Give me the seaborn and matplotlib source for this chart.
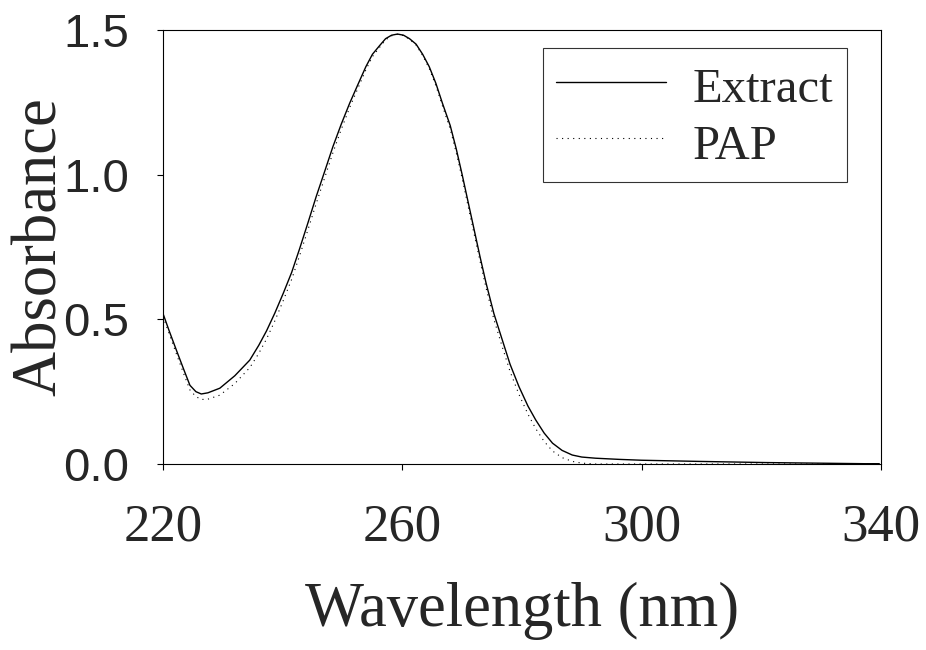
import matplotlib
matplotlib.use("Agg")
import matplotlib.pyplot as plt
import seaborn as sns
import pandas as pd

# ---- data ----
extract_wl = [220.0, 221.0, 222.3, 223.5, 224.5, 225.5, 226.4, 227.5, 229.5, 232.0,
              234.5, 236.0, 237.3, 238.7, 240.1, 241.5, 242.8, 244.2, 245.6, 247.0,
              248.4, 249.8, 251.2, 252.5, 253.9, 255.0, 256.2, 257.2, 258.2, 259.2,
              260.2, 261.2, 262.3, 263.4, 264.5, 265.6, 266.7, 268.0, 269.0, 270.0,
              271.0, 272.0, 273.0, 274.0, 275.3, 276.7, 278.0, 279.5, 281.0, 282.3,
              283.7, 285.1, 286.7, 288.4, 290.0, 292.3, 296.2, 300.0, 309.5, 320.6,
              337.3, 339.7]
extract_abs = [0.52, 0.462, 0.39, 0.325, 0.272, 0.25, 0.242, 0.246, 0.262, 0.305,
               0.359, 0.41, 0.46, 0.522, 0.59, 0.662, 0.742, 0.832, 0.924, 1.01,
               1.097, 1.175, 1.247, 1.308, 1.373, 1.416, 1.446, 1.47, 1.482, 1.486,
               1.482, 1.47, 1.451, 1.416, 1.373, 1.316, 1.247, 1.17, 1.09, 1.0,
               0.905, 0.81, 0.715, 0.625, 0.52, 0.429, 0.345, 0.267, 0.2, 0.152,
               0.107, 0.072, 0.047, 0.031, 0.024, 0.020, 0.016, 0.013, 0.009, 0.005,
               0.001, 0.001]

pap_wl = [220.0, 221.0, 222.3, 223.5, 224.5, 225.5, 226.4, 227.5, 229.5, 232.0,
          234.5, 236.0, 237.3, 238.7, 240.1, 241.5, 242.8, 244.2, 245.6, 247.0,
          248.4, 249.8, 251.2, 252.5, 253.9, 255.0, 256.2, 257.2, 258.2, 259.2,
          260.2, 261.2, 262.3, 263.4, 264.5, 265.6, 266.7, 268.0, 269.0, 270.0,
          271.0, 272.0, 273.0, 274.0, 275.3, 276.7, 278.0, 279.5, 281.0, 282.3,
          283.7, 285.1, 286.7, 288.4, 290.0, 292.3, 340.0]
pap_abs = [0.51, 0.452, 0.377, 0.31, 0.256, 0.233, 0.223, 0.224, 0.238, 0.278,
           0.333, 0.382, 0.432, 0.495, 0.565, 0.638, 0.718, 0.808, 0.9, 0.988,
           1.076, 1.157, 1.232, 1.295, 1.362, 1.408, 1.44, 1.466, 1.48, 1.485,
           1.481, 1.468, 1.448, 1.412, 1.367, 1.308, 1.238, 1.158, 1.077, 0.987,
           0.89, 0.795, 0.7, 0.608, 0.5, 0.405, 0.32, 0.24, 0.172, 0.122,
           0.078, 0.045, 0.022, 0.009, 0.003, 0.0, 0.0]

x_ticks = [220, 260, 300, 340]
y_ticks = [0.0, 0.5, 1.0, 1.5]
y_tick_labels = ["0.0", "0.5", "1.0", "1.5"]

df_ext = pd.DataFrame({"Wavelength": extract_wl, "Absorbance": extract_abs})
df_pap = pd.DataFrame({"Wavelength": pap_wl, "Absorbance": pap_abs})

sns.set_style("white")
plt.rcParams["font.family"] = ["Liberation Serif", "DejaVu Serif"]

fig = plt.figure(figsize=(9.26, 6.5), dpi=100)
ax = fig.add_axes([163 / 926, 1 - 464 / 650, (881 - 163) / 926, (464 - 30) / 650])

sns.lineplot(data=df_ext, x="Wavelength", y="Absorbance", ax=ax, color="black",
             linewidth=1.0, label="Extract", sort=False)
sns.lineplot(data=df_pap, x="Wavelength", y="Absorbance", ax=ax, color="black",
             linewidth=0.8, linestyle=(0, (1, 4)), label="PAP", sort=False)

ax.set_xlim(220, 339.7)
ax.set_ylim(0, 1.5)
ax.set_xticks(x_ticks)
ax.set_xticklabels([str(t) for t in x_ticks], fontfamily="Liberation Serif", fontsize=38)
ax.set_yticks(y_ticks)
ax.set_yticklabels(y_tick_labels, fontfamily="Liberation Sans", fontsize=34)
ax.tick_params(axis="both", direction="out", length=4.5, width=0.8, color="black",
               bottom=True, left=True, top=False, right=False)
ax.tick_params(axis="x", pad=24)
ax.tick_params(axis="y", pad=20)

for s in ax.spines.values():
    s.set_visible(True)
    s.set_color("black")
    s.set_linewidth(0.8)

ax.set_xlabel("Wavelength (nm)", fontsize=45, fontfamily="Liberation Serif", labelpad=22)
ax.set_ylabel("Absorbance", fontsize=45, fontfamily="Liberation Serif")
ax.yaxis.set_label_coords(-0.13, 0.5)

leg = ax.legend(loc="upper right", bbox_to_anchor=((847 - 163) / 718, (464 - 48) / 434),
                frameon=True, fancybox=False, fontsize=35, handlelength=2.25,
                handleheight=1.15, handletextpad=0.56, labelspacing=0.12,
                borderpad=0.28, borderaxespad=0)
leg.get_frame().set_edgecolor("black")
leg.get_frame().set_linewidth(0.8)
for t in leg.get_texts():
    t.set_fontfamily("Liberation Serif")

fig.savefig("out.png", dpi=100)
